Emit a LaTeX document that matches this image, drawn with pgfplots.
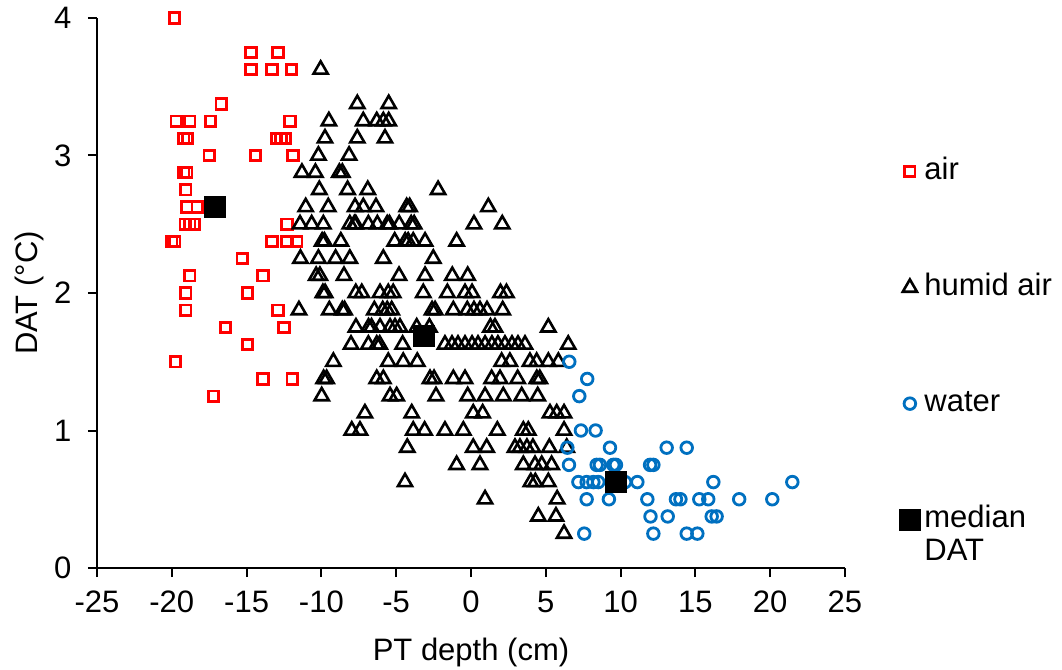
\documentclass[border=0pt]{standalone}
\usepackage{pgfplots}
\pgfplotsset{compat=1.18}
\usepackage{fontspec}
\setmainfont{Liberation Sans}
\definecolor{wblue}{RGB}{0,112,192}

\pgfplotstableread{
x y
-19.83 4.0
-14.7 3.75
-12.9 3.75
-14.7 3.625
-13.3 3.625
-12.0 3.625
-16.7 3.375
-19.7 3.25
-18.8 3.25
-17.4 3.25
-12.1 3.25
-19.2 3.125
-18.95 3.125
-13.0 3.125
-12.7 3.125
-12.4 3.125
-17.5 3.0
-14.4 3.0
-11.9 3.0
-19.2 2.875
-19.0 2.875
-19.07 2.75
-19.0 2.625
-18.3 2.625
-19.1 2.5
-18.8 2.5
-18.5 2.5
-12.3 2.5
-20.0 2.375
-19.8 2.375
-13.3 2.375
-12.3 2.375
-11.65 2.375
-15.3 2.25
-18.8 2.125
-13.9 2.125
-19.07 2.0
-14.95 2.0
-19.07 1.875
-12.9 1.875
-16.4 1.75
-12.5 1.75
-14.95 1.625
-19.74 1.5
-13.9 1.375
-11.95 1.375
-17.2 1.25
}\airdata

\pgfplotstableread{
x y
-10.05 3.625
-7.6 3.375
-5.5 3.375
-9.5 3.25
-7.2 3.25
-6.3 3.25
-5.86 3.25
-5.5 3.25
-9.76 3.125
-7.6 3.125
-5.75 3.125
-10.2 3.0
-8.15 3.0
-11.3 2.875
-10.4 2.875
-8.8 2.875
-8.6 2.875
-10.14 2.75
-8.25 2.75
-6.9 2.75
-2.2 2.75
-11.05 2.625
-9.54 2.625
-7.75 2.625
-7.2 2.625
-6.35 2.625
-4.3 2.625
-4.1 2.625
1.16 2.625
-11.43 2.5
-10.65 2.5
-9.87 2.5
-8.1 2.5
-7.8 2.5
-7.7 2.5
-6.86 2.5
-6.26 2.5
-5.6 2.5
-5.45 2.5
-4.8 2.5
-4.0 2.5
-3.8 2.5
0.2 2.5
2.09 2.5
-9.95 2.375
-9.8 2.375
-8.7 2.375
-5.1 2.375
-4.4 2.375
-4.2 2.375
-3.86 2.375
-3.07 2.375
-0.96 2.375
-11.4 2.25
-10.2 2.25
-9.05 2.25
-8.1 2.25
-5.86 2.25
-2.52 2.25
-10.35 2.125
-10.1 2.125
-8.49 2.125
-4.81 2.125
-3.07 2.125
-1.25 2.125
-0.22 2.125
-9.9 2.0
-9.75 2.0
-7.7 2.0
-7.3 2.0
-6.08 2.0
-5.53 2.0
-5.2 2.0
-3.19 2.0
-1.58 2.0
-0.4 2.0
0.07 2.0
1.97 2.0
2.37 2.0
-11.5 1.875
-9.47 1.875
-8.6 1.875
-8.45 1.875
-6.46 1.875
-5.9 1.875
-5.6 1.875
-5.3 1.875
-2.6 1.875
-2.4 1.875
-1.18 1.875
-0.25 1.875
0.2 1.875
0.6 1.875
1.07 1.875
2.12 1.875
-7.69 1.75
-6.85 1.75
-6.65 1.75
-6.08 1.75
-5.41 1.75
-5.08 1.75
-4.75 1.75
-3.63 1.75
-2.78 1.75
1.3 1.75
1.6 1.75
5.17 1.75
-8.02 1.625
-6.86 1.625
-6.3 1.625
-6.1 1.625
-4.57 1.625
-1.74 1.625
-1.27 1.625
-0.87 1.625
-0.4 1.625
0.07 1.625
0.47 1.625
0.94 1.625
1.4 1.625
1.8 1.625
2.27 1.625
2.74 1.625
3.14 1.625
3.61 1.625
6.5 1.625
-9.2 1.5
-5.53 1.5
-4.53 1.5
-3.59 1.5
2.05 1.5
2.6 1.5
3.94 1.5
4.39 1.5
5.17 1.5
5.84 1.5
-9.85 1.375
-9.65 1.375
-6.3 1.375
-5.86 1.375
-2.74 1.375
-2.47 1.375
-1.18 1.375
-0.4 1.375
1.38 1.375
1.94 1.375
3.12 1.375
4.4 1.375
4.6 1.375
-9.98 1.25
-5.41 1.25
-4.97 1.25
-2.34 1.25
-0.22 1.25
0.94 1.25
2.16 1.25
3.39 1.25
4.46 1.25
-7.09 1.125
-3.96 1.125
0.15 1.125
0.78 1.125
5.28 1.125
5.73 1.125
6.22 1.125
-7.97 1.0
-7.42 1.0
-3.86 1.0
-3.1 1.0
-1.74 1.0
-0.51 1.0
1.76 1.0
3.5 1.0
3.83 1.0
6.22 1.0
-4.26 0.875
0.15 0.875
1.05 0.875
2.94 0.875
3.27 0.875
3.74 0.875
4.14 0.875
5.24 0.875
6.4 0.875
-0.96 0.75
0.6 0.75
3.5 0.75
4.28 0.75
4.73 0.75
5.39 0.75
-4.41 0.625
4.0 0.625
4.3 0.625
5.17 0.625
0.94 0.5
5.76 0.5
4.5 0.375
5.68 0.375
6.22 0.25
}\humiddata

\pgfplotstableread{
x y
6.57 1.5
7.77 1.375
7.24 1.25
7.35 1.0
8.33 1.0
6.44 0.875
9.29 0.875
13.08 0.875
14.42 0.875
6.55 0.75
8.4 0.75
8.62 0.75
9.51 0.75
9.69 0.75
11.97 0.75
12.19 0.75
7.18 0.625
7.73 0.625
8.18 0.625
8.51 0.625
10.3 0.625
11.12 0.625
16.2 0.625
21.48 0.625
7.73 0.5
9.22 0.5
11.79 0.5
13.7 0.5
14.0 0.5
15.26 0.5
15.86 0.5
17.93 0.5
20.14 0.5
12.0 0.375
13.15 0.375
16.09 0.375
16.42 0.375
7.57 0.25
12.19 0.25
14.42 0.25
15.13 0.25
}\waterdata

\pgfplotstableread{
x y
-17.1 2.625
-3.15 1.6875
9.7 0.625
}\mediandata

\begin{document}
\begin{tikzpicture}[font=\fontsize{15.5}{18.6}\selectfont]
\begin{axis}[
  name=ax,
  scale only axis,
  width=374pt, height=275pt,
  xmin=-25, xmax=25, ymin=0, ymax=4,
  axis x line*=bottom, axis y line*=left,
  axis line style={line width=1pt, black},
  xtick={-25,-20,-15,-10,-5,0,5,10,15,20,25},
  xticklabels={-25,-20,-15,-10,-5,0,5,10,15,20,25},
  ytick={0,1,2,3,4}, yticklabels={0,1,2,3,4},
  tick align=outside, major tick length=4.5pt,
  tick style={line width=1pt, black},
  xticklabel style={yshift=-3.5pt},
  yticklabel style={xshift=-4.8pt},
  xlabel={PT depth (cm)},
  ylabel={DAT (°C)},
  every axis x label/.style={at={(axis description cs:0.5,0)}, anchor=base, yshift=-46pt},
  every axis y label/.style={at={(axis description cs:-0.0802,0.5)}, rotate=90, anchor=base},
  clip=false,
  legend cell align=left,
  legend style={draw=none, fill=none, at={(axis description cs:1.0722,0.755)}, anchor=north west,
    inner sep=0pt, row sep=39.5pt,
    nodes={inner xsep=2pt, inner ysep=2pt, text height=11pt, text depth=3.5pt}},
]
\addplot[only marks, mark=square, mark size=2.6pt, red, mark options={line width=1.4pt}] table[x=x,y=y] {\airdata};
\addlegendentry{air}
\addplot[only marks, mark=triangle, mark size=4.1pt, black, mark options={line width=1.3pt}] table[x=x,y=y] {\humiddata};
\addlegendentry{humid air}
\addplot[only marks, mark=o, mark size=2.9pt, wblue, mark options={line width=1.4pt}] table[x=x,y=y] {\waterdata};
\addlegendentry{water}
\addplot[only marks, mark=square*, mark size=5.25pt, black] table[x=x,y=y] {\mediandata};
\addlegendentry{\makebox[0pt][l]{\raisebox{-16.5pt}[0pt][0pt]{DAT}}median}
\end{axis}
\pgfresetboundingbox
\path[use as bounding box] ([shift={(-48.5pt,-51pt)}]ax.south west) rectangle ([shift={(482.5pt,284pt)}]ax.south west);
\end{tikzpicture}
\end{document}
